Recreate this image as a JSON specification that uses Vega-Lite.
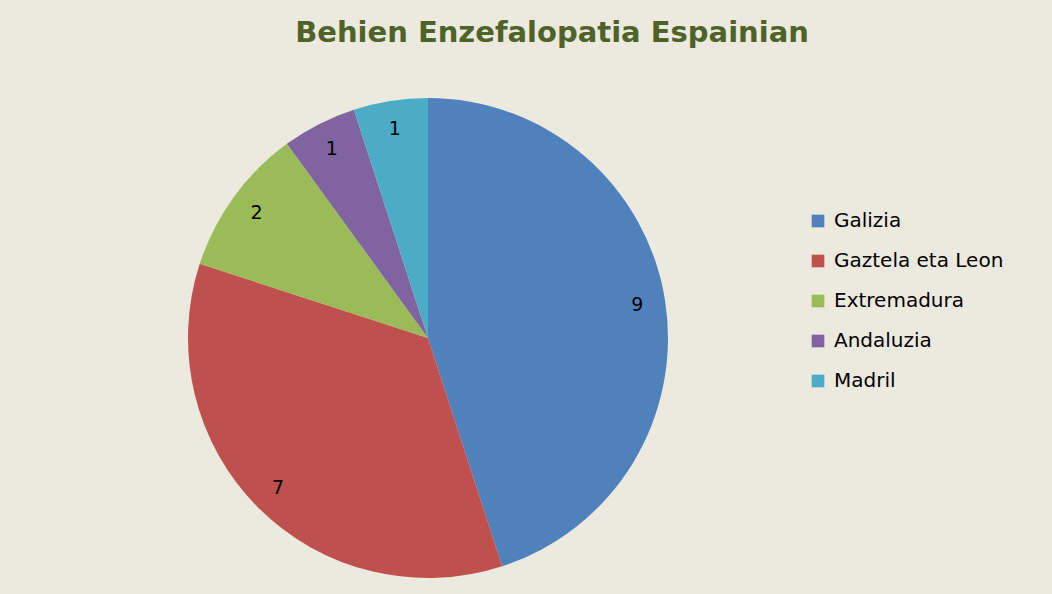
{
  "$schema": "https://vega.github.io/schema/vega-lite/v6.json",
  "width": 856,
  "height": 480,
  "autosize": "none",
  "padding": {"left": 0, "top": 98, "right": 196, "bottom": 16},
  "background": "#ECE9DF",
  "title": {
    "text": "Behien Enzefalopatia Espainian",
    "font": "DejaVu Sans",
    "fontSize": 29,
    "fontWeight": "bold",
    "color": "#4F6228",
    "anchor": "middle",
    "dx": 124,
    "offset": 50
  },
  "data": {
    "values": [
      {"region": "Galizia", "value": 9, "idx": 1},
      {"region": "Gaztela eta Leon", "value": 7, "idx": 2},
      {"region": "Extremadura", "value": 2, "idx": 3},
      {"region": "Andaluzia", "value": 1, "idx": 4},
      {"region": "Madril", "value": 1, "idx": 5}
    ]
  },
  "encoding": {
    "theta": {"field": "value", "type": "quantitative", "stack": true},
    "order": {"field": "idx", "type": "quantitative"}
  },
  "layer": [
    {
      "mark": {"type": "arc", "outerRadius": 240},
      "encoding": {
        "color": {
          "field": "region",
          "type": "nominal",
          "scale": {
            "domain": ["Galizia", "Gaztela eta Leon", "Extremadura", "Andaluzia", "Madril"],
            "range": ["#4F81BD", "#C0504D", "#9BBB59", "#8064A2", "#4BACC6"]
          },
          "legend": {
            "orient": "none",
            "legendX": 808,
            "legendY": 113,
            "title": null,
            "symbolType": "square",
            "symbolSize": 160,
            "symbolStrokeWidth": 0,
            "symbolOpacity": 1,
            "labelFontSize": 20,
            "labelFont": "DejaVu Sans",
            "labelColor": "#000000",
            "labelOffset": 6,
            "rowPadding": 20,
            "labelLimit": 300
          }
        }
      }
    },
    {
      "mark": {"type": "text", "radius": 212, "fontSize": 19, "font": "DejaVu Sans", "color": "#000000"},
      "encoding": {"text": {"field": "value", "type": "quantitative"}}
    }
  ],
  "config": {"view": {"stroke": null}}
}
